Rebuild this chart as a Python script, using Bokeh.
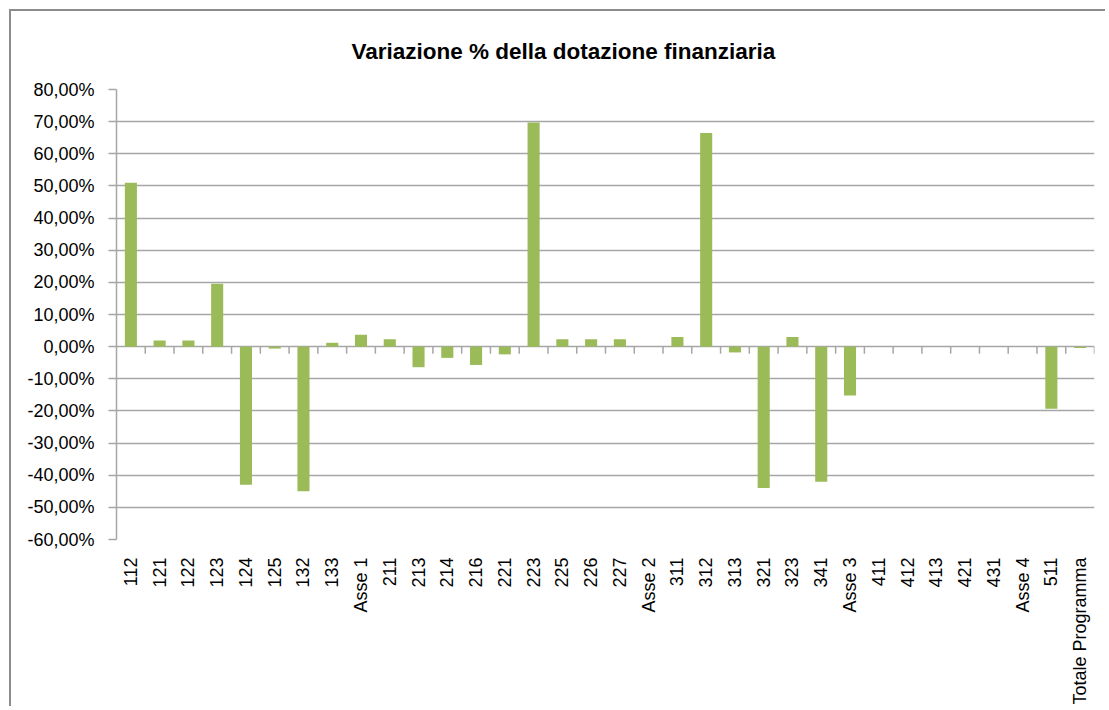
from bokeh.plotting import figure
from bokeh.models import FactorRange, FixedTicker, CustomJSTickFormatter, ColumnDataSource, Title
from bokeh.embed import file_html
from bokeh.resources import INLINE
import math

categories = ["112", "121", "122", "123", "124", "125", "132", "133", "Asse 1",
              "211", "213", "214", "216", "221", "223", "225", "226", "227", "Asse 2",
              "311", "312", "313", "321", "323", "341", "Asse 3",
              "411", "412", "413", "421", "431", "Asse 4", "511", "Totale Programma"]
variazione = [51.0, 1.9, 1.9, 19.6, -43.0, -0.6, -45.0, 1.2, 3.7,
              2.3, -6.4, -3.5, -5.7, -2.4, 69.7, 2.3, 2.3, 2.3, 0.0,
              3.0, 66.5, -1.8, -44.0, 3.0, -42.0, -15.2,
              0.0, 0.0, 0.0, 0.0, 0.0, 0.0, -19.3, -0.4]
y_ticks = [-60, -50, -40, -30, -20, -10, 0, 10, 20, 30, 40, 50, 60, 70, 80]
title_text = "Variazione % della dotazione finanziaria"

GRID = "#a6a6a6"
FONT = "Liberation Sans"

p = figure(x_range=FactorRange(*categories, range_padding=0),
           y_range=(y_ticks[0], y_ticks[-1]),
           width=1096, height=697, output_backend="svg", toolbar_location=None,
           min_border_left=105, min_border_top=78, min_border_right=13, min_border_bottom=169)
p.styles = {"border-top": "2px solid #8c8c8c", "border-left": "2px solid #8c8c8c",
            "margin-left": "9px", "margin-top": "9px"}

t = Title(text=title_text, align="left", offset=235, text_font=FONT,
          text_font_size="22.5px", text_font_style="bold", text_color="#000000",
          standoff=48, vertical_align="top")
p.add_layout(t, "above")

src = ColumnDataSource(dict(cat=categories, val=variazione))
p.vbar(x="cat", top="val", bottom=0, width=0.42, source=src,
       fill_color="#9bbb59", line_color=None)

# category separator ticks on the zero line
n = len(categories)
p.segment(x0=list(range(1, n + 1)), x1=list(range(1, n + 1)),
          y0=[0] * n, y1=[-2.2] * n, line_color=GRID, line_width=1.5)

p.outline_line_color = None
p.background_fill_color = "white"
p.border_fill_color = "white"

p.xgrid.grid_line_color = None
p.ygrid.grid_line_color = GRID
p.ygrid.grid_line_width = 1.5

p.yaxis.ticker = FixedTicker(ticks=y_ticks)
p.yaxis.formatter = CustomJSTickFormatter(code="return tick.toFixed(2).replace('.', ',') + '%';")
p.yaxis.axis_line_color = GRID
p.yaxis.axis_line_width = 1.5
p.yaxis.major_tick_line_color = GRID
p.yaxis.major_tick_line_width = 1.5
p.yaxis.major_tick_out = 8
p.yaxis.major_tick_in = 0
p.yaxis.minor_tick_line_color = None
p.yaxis.major_label_standoff = 14
p.yaxis.major_label_text_font = FONT
p.yaxis.major_label_text_font_size = "18px"
p.yaxis.major_label_text_color = "#000000"

p.xaxis.axis_line_color = None
p.xaxis.major_tick_line_color = None
p.xaxis.minor_tick_line_color = None
p.xaxis.major_label_orientation = math.pi / 2
p.xaxis.major_label_standoff = 12
p.xaxis.major_label_text_font = FONT
p.xaxis.major_label_text_font_size = "18px"
p.xaxis.major_label_text_color = "#000000"

open("out.html", "w").write(file_html(p, INLINE))
